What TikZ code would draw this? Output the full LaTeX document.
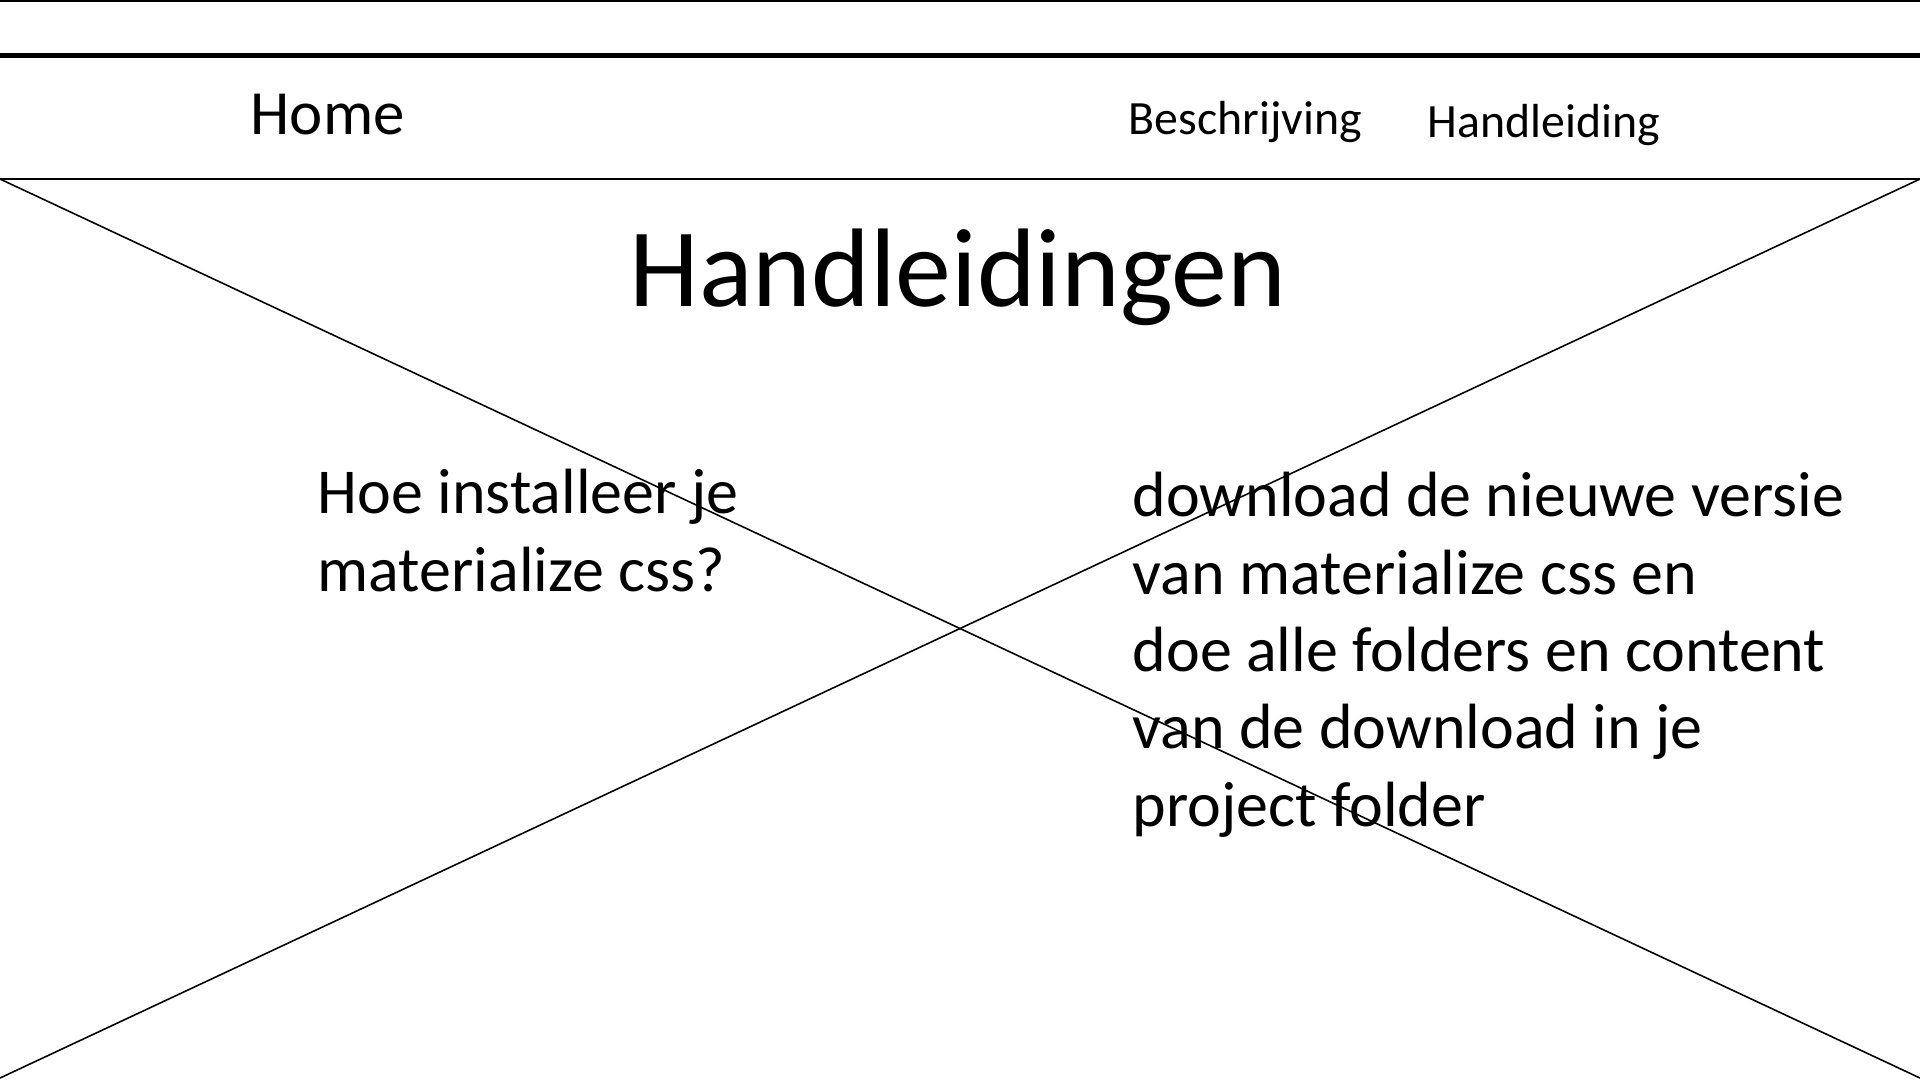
\documentclass[tikz,border=0pt]{standalone}
\usepackage{fontspec}
\setmainfont{Carlito}
\usepackage{tikz}

\begin{document}
\begin{tikzpicture}[x=0.1mm, y=-0.1mm,
	navtext/.style={anchor=base west, inner sep=0pt, font=\fontsize{13.6}{16}\selectfont},
	bodytext/.style={anchor=base west, inner sep=0pt, align=left, font=\fontsize{18.2}{22}\selectfont}]
	\useasboundingbox (0,0) rectangle (1920,1080);
	% frame lines
	\coordinate (TopL) at (0, 1);
	\coordinate (TopR) at (1920, 1);
	\coordinate (BarL) at (0, 55.5);
	\coordinate (BarR) at (1920, 55.5);
	\coordinate (A) at (0, 179);
	\coordinate (B) at (1920, 179);
	\coordinate (C) at (0, 1078);
	\coordinate (D) at (1920, 1078);
	\draw [line width=0.35pt] (TopL) -- (TopR);
	\draw [line width=1.3pt] (BarL) -- (BarR);
	\draw [line width=0.7pt] (A) -- (B);
	\draw [line width=0.45pt] (A) -- (D);
	\draw [line width=0.45pt] (B) -- (C);
	% navigation
	\node [anchor=base west, inner sep=0pt, font=\fontsize{17.9}{20}\selectfont] (Home) at (250, 134) {Home};
	\node [navtext] (Beschrijving) at (1128, 134) {Beschrijving};
	\node [navtext] (Handleiding) at (1427, 137) {Handleiding};
	% content (base = last line)
	\node [anchor=base, inner sep=0pt, font=\fontsize{31.8}{36}\selectfont] (Title) at (958, 306) {Handleidingen};
	\node [bodytext] (Vraag) at (317, 591) {Hoe installeer je\\materialize css?};
	\node [bodytext] (Antwoord) at (1132, 826) {download de nieuwe versie\\van materialize css en\\doe alle folders en content\\van de download in je\\project folder};
\end{tikzpicture}
\end{document}
